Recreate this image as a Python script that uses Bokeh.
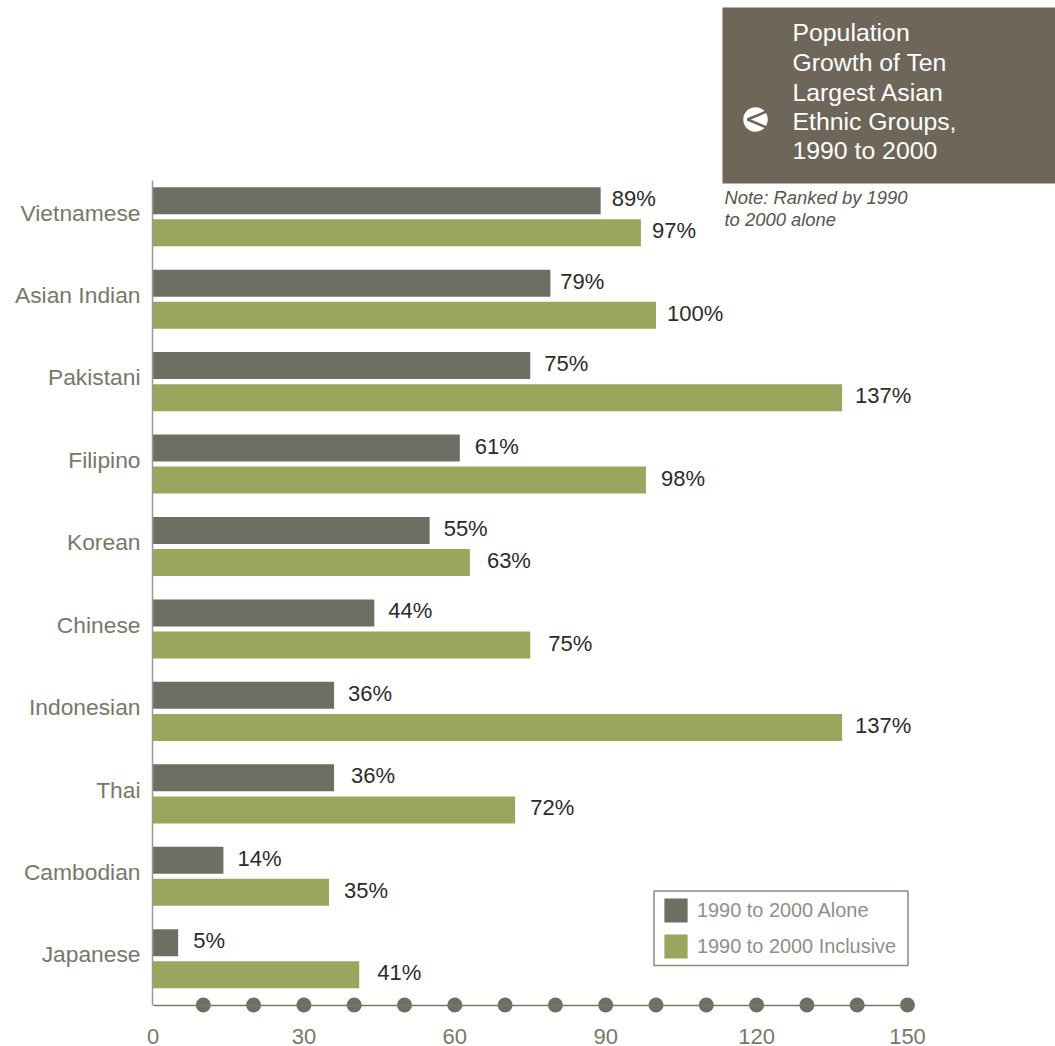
from bokeh.embed import file_html
from bokeh.resources import INLINE
from bokeh.plotting import figure
from bokeh.models import (BoxAnnotation, ColumnDataSource, FixedTicker, Label, Legend,
                          LegendItem, LinearAxis, Range1d)
from bokeh.core.properties import value

# Ethnic groups ranked by growth of the "alone" population
groups = ["Vietnamese", "Asian Indian", "Pakistani", "Filipino", "Korean",
          "Chinese", "Indonesian", "Thai", "Cambodian", "Japanese"]
alone = [89, 79, 75, 61, 55, 44, 36, 36, 14, 5]
inclusive = [97, 100, 137, 98, 63, 75, 137, 72, 35, 41]
x_tick_values = [0, 30, 60, 90, 120, 150]
x_dot_values = [10, 20, 30, 40, 50, 60, 70, 80, 90, 100, 110, 120, 130, 140, 150]
series_names = ["1990 to 2000 Alone", "1990 to 2000 Inclusive"]
title_lines = ["Population", "Growth of Ten", "Largest Asian", "Ethnic Groups,", "1990 to 2000"]
note_lines = ["Note: Ranked by 1990", "to 2000 alone"]

# Hand-tuned distance between each bar end and its value label, in pixels
alone_gaps = [11, 10, 14, 15, 14, 14, 14, 17, 14, 15]
inclusive_gaps = [11, 11, 13, 15, 17, 18, 13, 15, 15, 18]

FONT = "Liberation Sans"
DARK = "#6e6f63"
GREEN = "#9ca55e"
BROWN = "#6e6659"
GREY_TEXT = "#77786b"
VALUE_TEXT = "#2b2b2b"

W, H = 1055, 1046
X_SCALE = 5.03          # pixels per percentage point
X0_PX = 152.5           # pixel column of the zero line
ROW_STEP = 82.44        # pixels between groups
ROW0_PX = 212.0         # pixel row of the first group's label
AXIS_PX = 1004.5        # pixel row of the horizontal axis line


def row_at(py):
    return (py - ROW0_PX) / ROW_STEP


def col_at(px):
    return (px - X0_PX) / X_SCALE


# The frame fills the canvas, so both axes sit at fixed locations inside it
# and neither their labels nor the axis dots get cut off at its edge
p = figure(width=W, height=H, output_backend="svg", toolbar_location=None,
           x_range=Range1d(col_at(0), col_at(W)),
           y_range=Range1d(row_at(H), row_at(0)),
           x_axis_location=None, y_axis_location=None,
           min_border_left=0, min_border_right=0, min_border_top=0, min_border_bottom=0,
           background_fill_color="white", border_fill_color="white", outline_line_color=None)
p.grid.visible = False

rows = list(range(len(groups)))
bar_h = 27 / ROW_STEP
alone_src = ColumnDataSource(dict(
    y=[r + row_at(200.2) for r in rows], v=alone,
    label=[f"{v}%" for v in alone], gap=alone_gaps))
incl_src = ColumnDataSource(dict(
    y=[r + row_at(232.3) for r in rows], v=inclusive,
    label=[f"{v}%" for v in inclusive], gap=inclusive_gaps))

r_alone = p.hbar(y="y", left=0, right="v", height=bar_h, source=alone_src,
                 fill_color=DARK, line_color=None)
r_incl = p.hbar(y="y", left=0, right="v", height=bar_h, source=incl_src,
                fill_color=GREEN, line_color=None)

for src in (alone_src, incl_src):
    p.text(x="v", y="y", text="label", x_offset="gap", y_offset=-2, source=src,
           text_font=value(FONT), text_font_size="22px", text_color=VALUE_TEXT,
           text_align="left", text_baseline="middle")

# Axes
y_axis = LinearAxis(ticker=FixedTicker(ticks=rows),
                    major_label_overrides={r: g for r, g in zip(rows, groups)},
                    fixed_location=col_at(152), bounds=(row_at(180), row_at(AXIS_PX)),
                    axis_line_color="#9a9a90", axis_line_width=1.5,
                    major_tick_out=0, major_tick_in=0, minor_tick_out=0, minor_tick_in=0,
                    major_tick_line_color=None, minor_tick_line_color=None,
                    major_label_standoff=12, major_label_text_font=FONT,
                    major_label_text_font_size="22.8px", major_label_text_color=GREY_TEXT)
p.add_layout(y_axis, "left")

x_axis = LinearAxis(ticker=FixedTicker(ticks=x_tick_values),
                    fixed_location=row_at(AXIS_PX), bounds=(0, 150),
                    axis_line_color="#77786b", axis_line_width=1.5,
                    major_tick_out=0, major_tick_in=0, minor_tick_out=0, minor_tick_in=0,
                    major_tick_line_color=None, minor_tick_line_color=None,
                    major_label_standoff=24, major_label_text_font=FONT,
                    major_label_text_font_size="22px", major_label_text_color=GREY_TEXT)
p.add_layout(x_axis, "below")

p.scatter(x=x_dot_values, y=[row_at(AXIS_PX)] * len(x_dot_values), size=15,
          fill_color=DARK, line_color=None)

# Legend frame, with the legend itself laid over it
p.add_layout(BoxAnnotation(left=653.5, right=907.5, top=890.5, bottom=965,
                           left_units="canvas", right_units="canvas",
                           top_units="canvas", bottom_units="canvas",
                           fill_color="white", fill_alpha=1,
                           line_color="#8a8c7e", line_alpha=1, line_width=1.5))
legend = Legend(items=[LegendItem(label=series_names[0], renderers=[r_alone]),
                       LegendItem(label=series_names[1], renderers=[r_incl])],
                location=(661, H - 961), orientation="vertical",
                padding=0, spacing=6, margin=0,
                glyph_width=29, glyph_height=30, label_standoff=7,
                label_text_font=FONT, label_text_font_size="19.9px", label_text_color="#8d8f88",
                label_height=30, border_line_color=None, background_fill_alpha=0)
p.add_layout(legend, "center")

# Title panel
p.add_layout(BoxAnnotation(left=722, right=1055, top=7, bottom=183,
                           left_units="canvas", right_units="canvas",
                           top_units="canvas", bottom_units="canvas",
                           fill_color=BROWN, fill_alpha=1, line_color=None))
for line, py in zip(title_lines, [32, 62, 91.5, 120.5, 150]):
    p.add_layout(Label(x=792, y=py, x_units="canvas", y_units="canvas", text=line,
                       text_font=FONT, text_font_size="24.8px", text_color="white",
                       text_align="left", text_baseline="middle"))
for line, py in zip(note_lines, [196.5, 219]):
    p.add_layout(Label(x=724, y=py, x_units="canvas", y_units="canvas", text=line,
                       text_font=FONT, text_font_style="italic", text_font_size="18.4px",
                       text_color="#555550", text_align="left", text_baseline="middle"))

# Back-arrow badge inside the title panel
p.scatter(x=[col_at(755)], y=[row_at(119)], size=24.5, fill_color="white", line_color=None, level="overlay")
p.line(x=[col_at(766), col_at(747), col_at(766)], y=[row_at(111), row_at(119), row_at(127)],
       line_color=BROWN, line_width=2.5, level="overlay")

open("out.html", "w").write(file_html(p, INLINE))
